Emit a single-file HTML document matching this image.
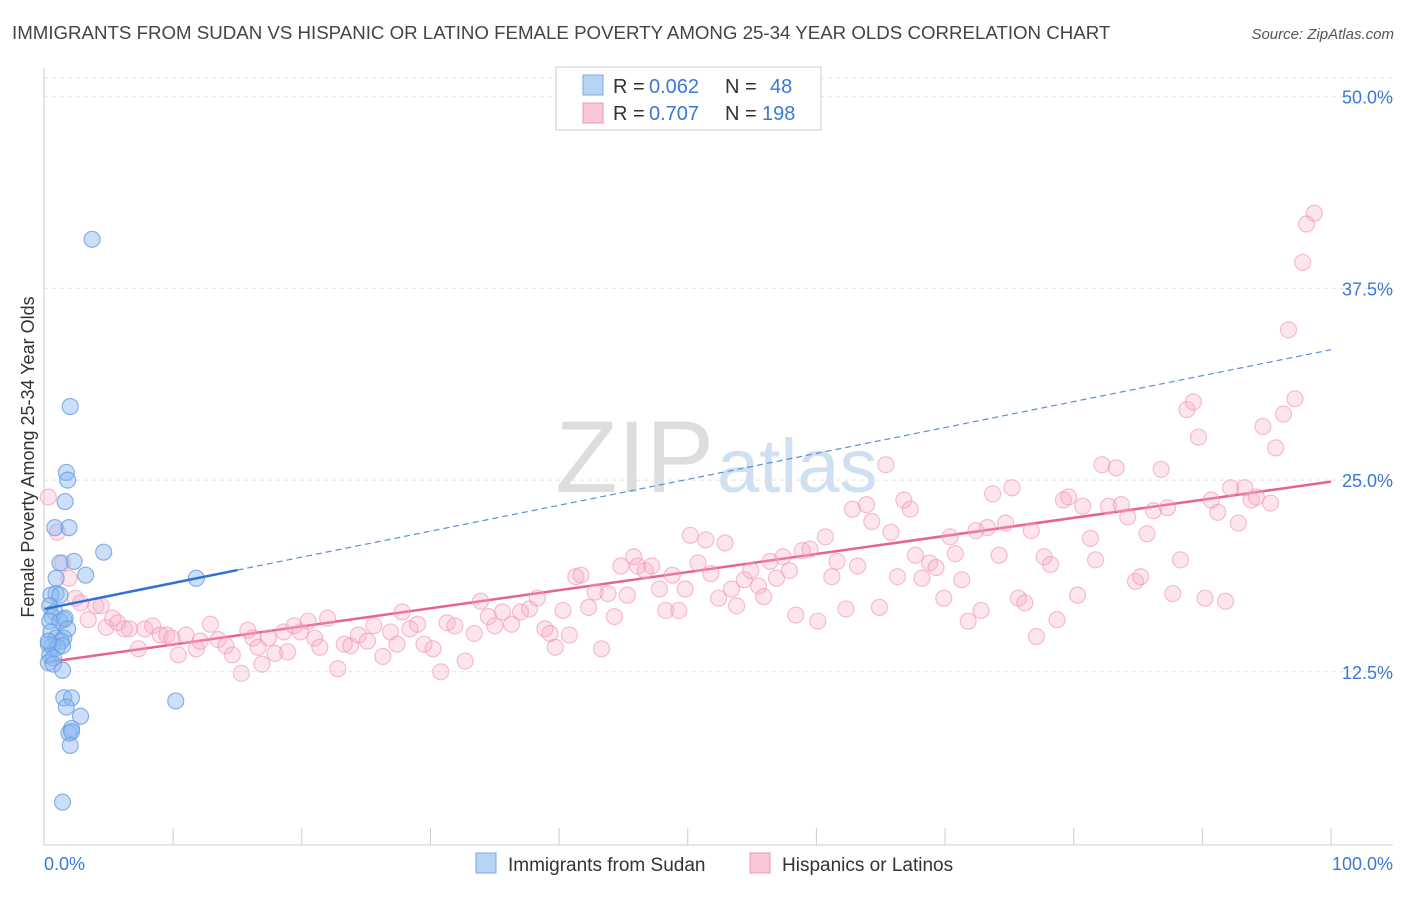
<!DOCTYPE html>
<html><head><meta charset="utf-8">
<style>
body{margin:0;background:#fff;font-family:"Liberation Sans",sans-serif;}
svg text{font-family:"Liberation Sans",sans-serif;}
</style></head>
<body>
<svg id="chart" width="1406" height="892" xmlns="http://www.w3.org/2000/svg">
<text x="12" y="39" font-size="18.7" fill="#444">IMMIGRANTS FROM SUDAN VS HISPANIC OR LATINO FEMALE POVERTY AMONG 25-34 YEAR OLDS CORRELATION CHART</text>
<text x="1394" y="39" font-size="15" fill="#555" text-anchor="end" font-style="italic">Source: ZipAtlas.com</text>
<g>
<text x="714" y="492" font-size="102" fill="#ddd" text-anchor="end" font-family="Liberation Serif, serif">ZIP</text>
<text x="717" y="492" font-size="76" fill="#cfe0f2">atlas</text>
</g>
<g id="grid"></g>
<g id="axes"></g>
<g id="trends"></g>
<g id="points"></g>
<g>
<rect x="556" y="67" width="265" height="63" fill="#fff" stroke="#ccc"/>
<rect x="583" y="75" width="20" height="20" fill="#b8d4f4" stroke="#7aaae0"/>
<text x="613" y="93" font-size="20" fill="#333">R =</text>
<text x="649" y="93" font-size="20" fill="#3b78d8">0.062</text>
<text x="725" y="93" font-size="20" fill="#333">N =</text>
<text x="770" y="93" font-size="20" fill="#3b78d8">48</text>
<rect x="583" y="103" width="20" height="20" fill="#f9c6d6" stroke="#ee94b2"/>
<text x="613" y="120" font-size="20" fill="#333">R =</text>
<text x="649" y="120" font-size="20" fill="#3b78d8">0.707</text>
<text x="725" y="120" font-size="20" fill="#333">N =</text>
<text x="762" y="120" font-size="20" fill="#3b78d8">198</text>
</g>
<g>
<rect x="476" y="853" width="20" height="20" fill="#b8d4f4" stroke="#7aaae0"/>
<text x="508" y="871" font-size="19" fill="#333">Immigrants from Sudan</text>
<rect x="750" y="853" width="20" height="20" fill="#f9c6d6" stroke="#ee94b2"/>
<text x="782" y="871" font-size="19" fill="#333">Hispanics or Latinos</text>
</g>
<text transform="translate(34,457) rotate(-90)" font-size="18" fill="#333" text-anchor="middle">Female Poverty Among 25-34 Year Olds</text>
</svg>
<script>
const yTicks=[12.5,25,37.5,50];
const yTickLabels=["12.5%","25.0%","37.5%","50.0%"];
const xTicks=[0,10,20,30,40,50,60,70,80,90,100];
const sudanX=[3.7,2.0,1.7,1.8,1.6,1.9,0.8,4.6,2.3,1.2,3.2,0.9,11.8,0.9,0.5,1.2,0.4,0.8,0.6,1.5,0.4,1.2,1.6,1.8,0.5,0.9,1.5,1.3,0.6,0.3,1.0,1.4,0.4,0.7,0.3,0.7,1.4,1.5,2.1,1.7,2.8,2.1,1.9,2.1,2.0,10.2,1.4,0.3];
const sudanY=[40.7,29.8,25.5,25.0,23.6,21.9,21.9,20.3,19.7,19.6,18.8,18.6,18.6,17.6,17.5,17.5,16.8,16.4,16.1,15.9,15.8,15.8,16.0,15.3,15.1,14.7,14.7,14.5,14.2,14.3,14.1,14.2,13.6,13.4,13.1,13.0,12.6,10.8,10.8,10.2,9.6,8.8,8.5,8.6,7.7,10.6,4.0,14.5];
const hispX=[0.3,1,1.4,1.9,2.4,2.8,3.4,4,4.4,4.8,5.3,5.7,6.2,6.6,7.3,7.8,8.4,9,9.5,9.9,10.4,11,11.8,12.1,12.9,13.5,14.1,14.6,15.3,15.8,16.2,16.6,16.9,17.4,17.9,18.6,18.9,19.4,19.9,20.5,21,21.4,22,22.8,23.3,23.8,24.4,25.1,25.6,26.3,26.9,27.4,27.8,28.4,29,29.5,30.2,30.8,31.3,31.9,32.7,33.4,33.9,34.5,35,35.6,36.3,37,37.7,38.3,38.9,39.3,39.7,40.3,40.8,41.3,41.7,42.3,42.8,43.3,43.8,44.3,44.8,45.3,45.8,46.1,46.7,47.2,47.8,48.3,48.8,49.3,49.8,50.2,50.8,51.4,51.8,52.4,52.9,53.4,53.8,54.4,54.9,55.5,55.9,56.4,56.9,57.4,57.9,58.4,58.9,59.5,60.1,60.7,61.2,61.6,62.3,62.8,63.2,63.9,64.3,64.9,65.4,65.8,66.3,66.8,67.3,67.7,68.2,68.8,69.3,69.9,70.4,70.8,71.3,71.8,72.4,72.8,73.3,73.7,74.2,74.7,75.2,75.7,76.2,76.7,77.1,77.7,78.2,78.7,79.2,79.6,80.3,80.7,81.3,81.7,82.2,82.7,83.3,83.7,84.2,84.8,85.2,85.7,86.2,86.8,87.3,87.7,88.3,88.8,89.3,89.7,90.2,90.7,91.2,91.8,92.2,92.8,93.3,93.8,94.2,94.7,95.3,95.7,96.3,96.7,97.2,97.8,98.1,98.7];
const hispY=[23.9,21.6,19.6,18.6,17.3,17.0,15.9,16.8,16.8,15.4,16.0,15.7,15.3,15.3,14.0,15.3,15.5,14.9,14.9,14.7,13.6,14.9,14.0,14.5,15.6,14.6,14.2,13.6,12.4,15.2,14.7,14.1,13.0,14.7,13.7,15.1,13.8,15.5,15.1,15.8,14.7,14.1,16.0,12.7,14.3,14.2,14.9,14.5,15.5,13.5,15.1,14.3,16.4,15.3,15.6,14.3,14.0,12.5,15.7,15.5,13.2,15.0,17.1,16.1,15.5,16.4,15.6,16.4,16.6,17.3,15.3,15.0,14.1,16.5,14.9,18.7,18.8,16.7,17.7,14.0,17.6,16.1,19.4,17.5,20.0,19.4,19.1,19.4,17.9,16.5,18.8,16.5,17.9,21.4,19.6,21.1,18.9,17.3,20.9,17.9,16.8,18.5,19.1,18.1,17.4,19.7,18.6,20.0,19.1,16.2,20.4,20.5,15.8,21.3,18.7,19.7,16.6,23.1,19.4,23.4,22.3,16.7,26.0,21.6,18.7,23.7,23.1,20.1,18.6,19.6,19.3,17.3,21.3,20.2,18.5,15.8,21.7,16.5,21.9,24.1,20.1,22.2,24.5,17.3,17.0,21.7,14.8,20.0,19.5,15.9,23.7,23.9,17.5,23.3,21.2,19.8,26.0,23.3,25.8,23.4,22.6,18.4,18.7,21.5,23.0,25.7,23.2,17.6,19.8,29.6,30.1,27.8,17.3,23.7,22.9,17.1,24.5,22.2,24.5,23.7,23.9,28.5,23.5,27.1,29.3,34.8,30.3,39.2,41.7,42.4];
const sudanTrend=[16.6,33.5]; const sudanSolidEnd=15;
const hispTrend=[13.1,24.9];

const NS="http://www.w3.org/2000/svg";
const X0=44.5,X1=1331,Y0=863.5,YPER=191.7/12.5;
const sx=v=>X0+(X1-X0)*v/100, sy=v=>Y0-v*YPER;
function mk(tag,attrs,parent){const e=document.createElementNS(NS,tag);for(const k in attrs)e.setAttribute(k,attrs[k]);parent.appendChild(e);return e;}
const grid=document.getElementById('grid'),axes=document.getElementById('axes'),tr=document.getElementById('trends'),pts=document.getElementById('points');
const topGrid=mk('line',{x1:44,x2:1393,y1:78,y2:78,stroke:'#e4e4e4','stroke-dasharray':'4,4'},grid);


yTicks.forEach((t,i)=>{
 const g=mk('line',{x1:44,x2:1393,y1:sy(t),y2:sy(t),stroke:'#e2e2e2','stroke-dasharray':'4,4'},grid);
 
 
 const l=mk('text',{x:1393,y:sy(t)+7,'font-size':18,fill:'#3b78d8','text-anchor':'end'},axes);
 l.textContent=yTickLabels[i];
 
 
});
const ax=mk('line',{x1:44,x2:44,y1:68,y2:845,stroke:'#ccc'},axes);


const bx=mk('line',{x1:44,x2:1393,y1:845,y2:845,stroke:'#ccc'},axes);


xTicks.forEach(t=>{if(t===0)return;
 const k=mk('line',{x1:sx(t),x2:sx(t),y1:828,y2:845,stroke:'#ccc'},axes);
 
 
});
const xl=mk('text',{x:44,y:870,'font-size':18,fill:'#3b78d8'},axes);xl.textContent='0.0%';


const xr=mk('text',{x:1393,y:870,'font-size':18,fill:'#3b78d8','text-anchor':'end'},axes);xr.textContent='100.0%';


const lerp=(a,v)=>a[0]+(a[1]-a[0])*v/100;
hispX.forEach((x,i)=>{
 const c=mk('circle',{cx:sx(x),cy:sy(hispY[i]),r:8,fill:'rgba(248,170,195,0.3)',stroke:'rgba(240,150,180,0.6)','stroke-width':1.2},pts);
 
 
});
sudanX.forEach((x,i)=>{
 const c=mk('circle',{cx:sx(x),cy:sy(sudanY[i]),r:8,fill:'rgba(140,185,240,0.45)',stroke:'rgba(100,155,225,0.75)','stroke-width':1.2},pts);
 
 
});
const ht=mk('line',{x1:sx(0),y1:sy(lerp(hispTrend,0)),x2:sx(100),y2:sy(lerp(hispTrend,100)),stroke:'#e8628e','stroke-width':2.5},tr);


const bs=mk('line',{x1:sx(0),y1:sy(lerp(sudanTrend,0)),x2:sx(sudanSolidEnd),y2:sy(lerp(sudanTrend,sudanSolidEnd)),stroke:'#2f6fd6','stroke-width':2.5},pts);


const bd=mk('line',{x1:sx(sudanSolidEnd),y1:sy(lerp(sudanTrend,sudanSolidEnd)),x2:sx(100),y2:sy(lerp(sudanTrend,100)),stroke:'#5a8fdc','stroke-width':1.2,'stroke-dasharray':'6,4'},tr);


</script>
</body></html>
